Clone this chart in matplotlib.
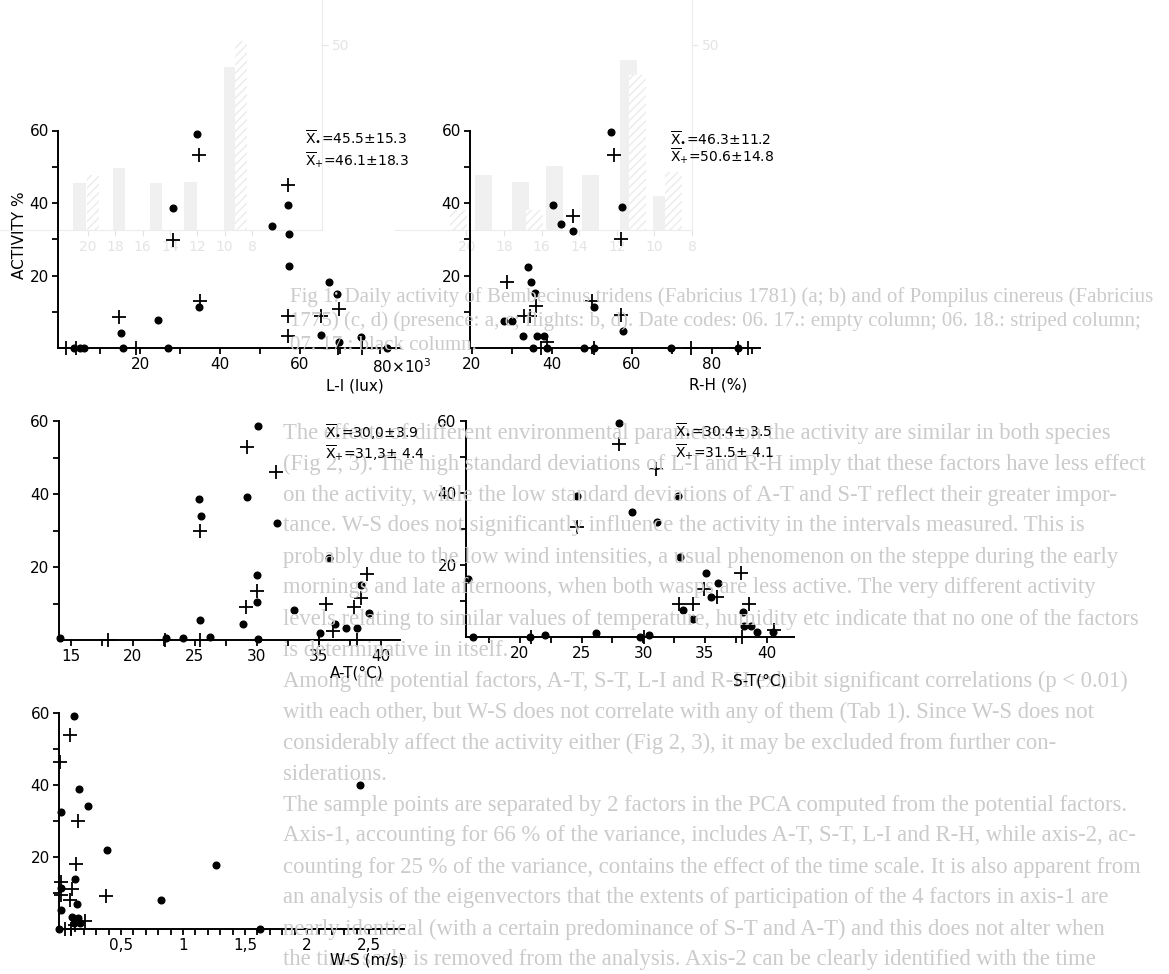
import numpy as np
import matplotlib
matplotlib.use("Agg")
import matplotlib.pyplot as plt
import matplotlib.transforms as mtransforms

plt.rcParams['font.family'] = ['DejaVu Sans']
plt.rcParams['mathtext.fontset'] = 'dejavusans'
plt.rcParams['hatch.color'] = '#e6e6e6'

W, H = 1169, 974

# --- data (activity %) ---
# L-I (x10^3 lux)
li_dot_x = [34.2, 28.3, 34.8, 15.2, 15.7, 24.4, 26.9, 52.9, 57.1, 57.3, 57.2, 67.3, 69.3,
            65.3, 69.8, 75.2, 81.7, 3.5, 5.0, 6.0]
li_dot_y = [59.0, 38.6, 11.2, 4.1, 0, 7.7, 0, 33.7, 39.5, 31.4, 22.5, 18.1, 14.9,
            3.7, 1.7, 3.1, 0, 0, 0, 0]
li_plus_x = [34.8, 28.3, 35.0, 14.8, 19.0, 57.1, 57.1, 57.1, 65.2, 69.8, 69.6, 75.6, 1.5, 4.0]
li_plus_y = [53.3, 29.7, 13.1, 8.6, 0, 44.9, 8.7, 3.4, 8.7, 10.8, 0, 0, 0, 0]

# R-H (%)
rh_dot_x = [54.75, 57.4, 40.2, 42.25, 45.25, 33.9, 34.75, 35.8, 28.1, 30.0, 32.8, 36.2, 38.1,
            50.4, 57.7, 35.2, 38.7, 48.1, 50.6, 69.75, 86.4]
rh_dot_y = [59.5, 38.8, 39.5, 34.2, 32.4, 22.3, 18.1, 15.2, 7.5, 7.5, 3.2, 3.4, 3.4,
            11.2, 4.6, 0, 0, 0, 0, 0, 0]
rh_plus_x = [55.6, 57.25, 45.2, 28.75, 36.0, 33.1, 34.6, 50.0, 57.25, 38.7, 37.25, 74.75,
             88.9, 50.6, 86.5]
rh_plus_y = [53.3, 30.2, 36.3, 18.1, 11.5, 8.9, 8.9, 12.9, 9.2, 1.6, 0, 0, 0, 0, 0]

# A-T (°C)
at_dot_x = [30.05, 29.2, 25.3, 25.5, 31.6, 35.8, 30.0, 30.0, 25.4, 28.9, 33.0, 38.4, 39.0,
            36.3, 37.2, 38.1, 35.05, 14.1, 22.7, 24.0, 26.2, 30.05]
at_dot_y = [58.6, 39.1, 38.5, 34.1, 32.1, 22.5, 17.9, 10.5, 5.4, 4.4, 8.2, 15.2, 7.5,
            4.4, 3.2, 3.2, 2.0, 0.5, 0.5, 0.5, 0.8, 0.3]
at_plus_x = [29.2, 31.5, 25.4, 30.0, 29.1, 35.6, 38.9, 38.4, 37.85, 36.1, 18.0, 22.6, 25.4, 35.0, 38.1]
at_plus_y = [52.9, 45.9, 30.0, 13.5, 9.1, 10.0, 18.0, 11.5, 9.1, 2.5, 0, 0, 0, 0, 0]

# S-T (°C)
st_dot_x = [28.0, 24.6, 32.8, 29.1, 31.1, 33.0, 35.1, 36.1, 35.5, 33.2, 34.05, 38.05, 38.2,
            38.7, 39.2, 15.8, 16.2, 20.8, 22.0, 26.2, 29.7, 30.5, 40.5]
st_dot_y = [59.4, 39.3, 39.3, 34.6, 31.9, 22.2, 17.8, 15.0, 11.1, 7.6, 5.1, 6.9, 3.0,
            3.0, 1.3, 16.1, 0, 0, 0.5, 1.0, 0, 0.5, 1.5]
st_plus_x = [28.0, 31.0, 24.6, 34.9, 35.95, 32.9, 34.0, 37.95, 38.6, 20.9, 30.1, 38.0, 40.6]
st_plus_y = [53.6, 46.7, 30.5, 13.3, 11.1, 9.2, 9.2, 17.8, 9.2, 0, 0, 0, 2.0]

# W-S (m/s)
ws_dot_x = [0.118, 0.164, 0.231, 0.016, 0.387, 0.13, 0.148, 0.016, 0.016, 0.823, 1.27, 2.43,
            1.62, 0.105, 0.15, 0.125, 0.17, 0.0]
ws_dot_y = [59.1, 39.0, 34.1, 32.5, 22.0, 14.0, 7.0, 5.4, 11.5, 8.0, 17.7, 40.1,
            0, 3.3, 3.1, 1.6, 1.6, 0]
ws_plus_x = [0.09, 0.01, 0.153, 0.14, 0.018, 0.104, 0.018, 0.086, 0.38, 0.21, 0.13, 0.10, 0.05]
ws_plus_y = [53.8, 46.4, 30.1, 18.1, 13.2, 11.2, 9.5, 8.1, 9.3, 2.1, 1.2, 0, 0]

# faint histograms showing through from the facing page (hour, %)
ghost_d_hour = [20.6, 19.6, 17.7, 15.0, 12.5, 9.6, 8.8]
ghost_d_val = [12.7, 14.9, 16.8, 12.7, 13.0, 44.0, 51.0]
ghost_d_hatch = [False, True, False, False, False, False, True]
ghost_c_hour = [20.4, 19.1, 17.1, 16.4, 15.3, 13.4, 11.4, 10.9, 9.6, 9.0]
ghost_c_val = [5.4, 14.9, 13.0, 5.4, 17.3, 14.9, 46.0, 42.0, 9.2, 15.7]
ghost_c_hatch = [True, False, False, True, False, False, False, True, False, True]
ghost_hours = [20, 18, 16, 14, 12, 10, 8]

# background text showing through from the page
caption = ["Fig 1: Daily activity of Bembecinus tridens (Fabricius 1781) (a; b) and of Pompilus cinereus (Fabricius",
           "1775) (c, d) (presence: a, c; flights: b, d). Date codes: 06. 17.: empty column; 06. 18.: striped column;",
           "07. 17.: black column."]
body = ["The effects of different environmental parameters on the activity are similar in both species",
        "(Fig 2, 3). The high standard deviations of L-I and R-H imply that these factors have less effect",
        "on the activity, while the low standard deviations of A-T and S-T reflect their greater impor-",
        "tance. W-S does not significantly influence the activity in the intervals measured. This is",
        "probably due to the low wind intensities, a usual phenomenon on the steppe during the early",
        "mornings and late afternoons, when both wasps are less active. The very different activity",
        "levels relating to similar values of temperature, humidity etc indicate that no one of the factors",
        "is determinative in itself.",
        "Among the potential factors, A-T, S-T, L-I and R-H exhibit significant correlations (p < 0.01)",
        "with each other, but W-S does not correlate with any of them (Tab 1). Since W-S does not",
        "considerably affect the activity either (Fig 2, 3), it may be excluded from further con-",
        "siderations.",
        "The sample points are separated by 2 factors in the PCA computed from the potential factors.",
        "Axis-1, accounting for 66 % of the variance, includes A-T, S-T, L-I and R-H, while axis-2, ac-",
        "counting for 25 % of the variance, contains the effect of the time scale. It is also apparent from",
        "an analysis of the eigenvectors that the extents of participation of the 4 factors in axis-1 are",
        "nearly identical (with a certain predominance of S-T and A-T) and this does not alter when",
        "the time scale is removed from the analysis. Axis-2 can be clearly identified with the time"]

fig = plt.figure(figsize=(W / 100, H / 100), dpi=100)
fig.patch.set_facecolor('white')

faint = '#ececec'


def ghost_ax(px_left, px_right, hours_lim, hours, vals, hatches):
    # baseline at y=230 px, 3.7 px per %
    g = fig.add_axes([px_left / W, 1 - 230 / H, (px_right - px_left) / W, 230 / H], zorder=-2)
    g.set_facecolor('none')
    g.set_xlim(*hours_lim)
    g.set_ylim(0, 230 / 3.7)
    for s in ['top', 'left']:
        g.spines[s].set_visible(False)
    g.spines['right'].set_color(faint)
    g.spines['bottom'].set_color(faint)
    g.yaxis.tick_right()
    g.set_yticks([50])
    g.tick_params(colors='#e4e4e4', labelsize=10, length=4)
    g.set_xticks(ghost_hours)
    for h, v, ht in zip(hours, vals, hatches):
        g.bar(h, v, width=0.9, color='white' if ht else '#f0f0f0',
              hatch='////' if ht else None, edgecolor='#ebebeb' if ht else '#f0f0f0', linewidth=0)
    return g


ghost_ax(0, 322, (26.4, 2.9), ghost_d_hour, ghost_d_val, ghost_d_hatch)
ghost_ax(395, 692, (23.8, 8.65), ghost_c_hour, ghost_c_val, ghost_c_hatch)

grey = '#cbcbcb'
for i, line in enumerate(caption):
    fig.text(290 / W, 1 - (297 + 24.5 * i) / H, line, family='Liberation Serif', fontsize=15,
             color=grey, va='center', ha='left', zorder=0)
for i, line in enumerate(body):
    fig.text(283 / W, 1 - (433 + 31 * i) / H, line, family='Liberation Serif', fontsize=16.3,
             color=grey, va='center', ha='left', zorder=0)


def make_ax(px_left, px_right, px_top, px_bottom, xlim):
    ax = fig.add_axes([px_left / W, 1 - px_bottom / H, (px_right - px_left) / W,
                       (px_bottom - px_top) / H])
    ax.set_facecolor('none')
    ax.set_xlim(*xlim)
    ax.set_ylim(0, 62)
    for s in ['top', 'right']:
        ax.spines[s].set_visible(False)
    for s in ['left', 'bottom']:
        ax.spines[s].set_linewidth(1.4)
    ax.spines['left'].set_bounds(0, 60)
    ax.tick_params(which='both', direction='out', length=4.5, width=1.3, labelsize=11, pad=2)
    ax.set_yticks([20, 40, 60])
    ax.set_yticks([10, 30, 50], minor=True)
    return ax


def scatter(ax, dx, dy, px, py):
    ax.plot(dx, dy, 'o', color='black', markersize=4.8, clip_on=False, zorder=3)
    ax.plot(px, py, '+', color='black', markersize=10, markeredgewidth=1.3, clip_on=False, zorder=3)


def mean_text(xpx, y1, y2, t1, t2):
    fig.text(xpx / W, 1 - y1 / H, r'$\overline{\mathrm{X}}_{\bullet}$' + t1, fontsize=10,
             va='center', ha='left')
    fig.text(xpx / W, 1 - y2 / H, r'$\overline{\mathrm{X}}_{+}$' + t2, fontsize=10,
             va='center', ha='left')


# L-I panel
ax1 = make_ax(58, 400, 123.25, 348, (-0.5, 85))
scatter(ax1, li_dot_x, li_dot_y, li_plus_x, li_plus_y)
ax1.set_xticks([20, 40, 60, 80])
ax1.set_xticklabels(['20', '40', '60', r'80$\times$10$^3$'])
ax1.set_xticks([10, 30, 50, 70], minor=True)
lab = ax1.get_xticklabels()[-1]
lab.set_ha('left')
lab.set_transform(lab.get_transform() + mtransforms.ScaledTranslation(-8 / 100, 0, fig.dpi_scale_trans))
mean_text(305, 137, 160, '=45.5±15.3', '=46.1±18.3')
fig.text(355 / W, 1 - 386 / H, 'L-I (lux)', fontsize=11, ha='center', va='center')

# R-H panel
ax2 = make_ax(470, 760, 123.25, 348, (19.5, 92))
scatter(ax2, rh_dot_x, rh_dot_y, rh_plus_x, rh_plus_y)
ax2.set_xticks([20, 40, 60, 80])
ax2.set_xticks([30, 50, 70, 90], minor=True)
mean_text(670, 138, 156, '=46.3±11.2', '=50.6±14.8')
fig.text(718 / W, 1 - 385 / H, 'R-H (%)', fontsize=11, ha='center', va='center')

# A-T panel
ax3 = make_ax(58.6, 399.6, 413.7, 640, (14.0, 41.5))
scatter(ax3, at_dot_x, at_dot_y, at_plus_x, at_plus_y)
ax3.set_xticks([15, 20, 25, 30, 35, 40])
ax3.set_xticks([17.5, 22.5, 27.5, 32.5, 37.5], minor=True)
mean_text(325, 432, 453, '=30,0±3.9', '=31,3± 4.4')
fig.text(357 / W, 1 - 673 / H, 'A-T(°C)', fontsize=11, ha='center', va='center')

# S-T panel
ax4 = make_ax(465.7, 793.7, 413.8, 637, (15.6, 42.2))
scatter(ax4, st_dot_x, st_dot_y, st_plus_x, st_plus_y)
ax4.set_xticks([20, 25, 30, 35, 40])
ax4.set_xticks([17.5, 22.5, 27.5, 32.5, 37.5], minor=True)
mean_text(675, 430, 452, '=30.4± 3.5', '=31.5± 4.1')
fig.text(760 / W, 1 - 681 / H, 'S-T(°C)', fontsize=11, ha='center', va='center')

# W-S panel
ax5 = make_ax(59, 403.7, 706, 929, (0, 2.78))
scatter(ax5, ws_dot_x, ws_dot_y, ws_plus_x, ws_plus_y)
ax5.set_xticks([0.5, 1, 1.5, 2, 2.5])
ax5.set_xticklabels(['0,5', '1', '1,5', '2', '2,5'])
ax5.set_xticks(np.arange(0.1, 2.75, 0.1), minor=True)
fig.text(367 / W, 1 - 960 / H, 'W-S (m/s)', fontsize=11, ha='center', va='center')

fig.text(20 / W, 1 - 235 / H, 'ACTIVITY %', fontsize=11, rotation=90, ha='center', va='center')

fig.savefig('out.png', dpi=100, facecolor='white')
